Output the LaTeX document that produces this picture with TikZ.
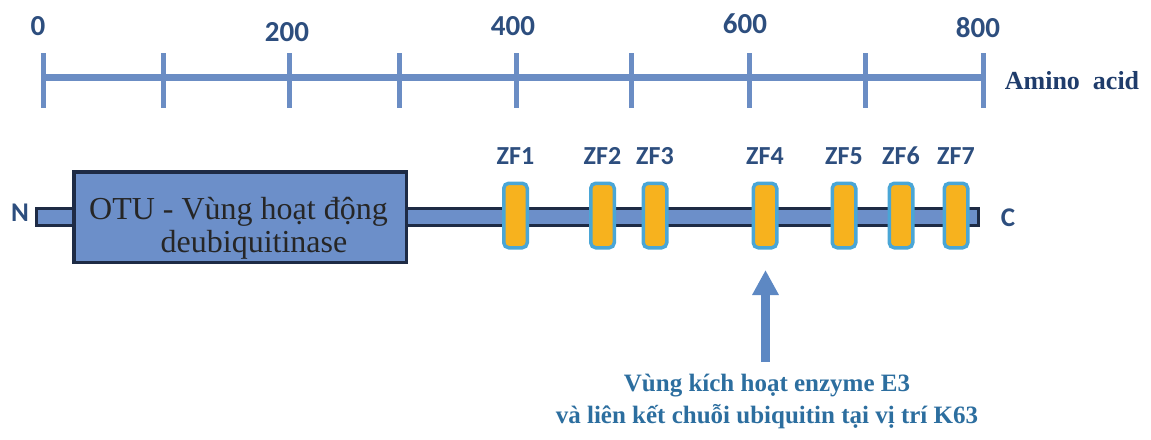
\documentclass[tikz,border=0pt]{standalone}
\usepackage{fontspec}
\setmainfont{Liberation Serif}
\newfontfamily\calib{Carlito}
\usetikzlibrary{arrows.meta}
\definecolor{scalecol}{HTML}{6B8DC4}
\definecolor{labcol}{HTML}{2D4E7E}
\definecolor{aacol}{HTML}{1F3C6B}
\definecolor{navy}{HTML}{1E2B45}
\definecolor{protfill}{HTML}{6C8FC9}
\definecolor{zffill}{HTML}{F7B21E}
\definecolor{zfedge}{HTML}{4AA6D6}
\definecolor{arrcol}{HTML}{5D88C3}
\definecolor{notecol}{HTML}{2C6E9F}
\begin{document}
\begin{tikzpicture}[x=1pt,y=-1pt,
  scalelab/.style={font=\calib\bfseries\fontsize{29}{32}\selectfont, text=labcol, inner sep=0pt},
  tickmark/.style={draw=scalecol, line width=5pt},
  axisline/.style={draw=scalecol, line width=7pt},
  zflab/.style={font=\calib\bfseries\fontsize{26}{30}\selectfont, text=labcol, inner sep=0pt},
  zfbox/.style={draw=zfedge, fill=zffill, line width=3.5pt, rounded corners=5pt,
    minimum width=23.5pt, minimum height=64.5pt, inner sep=0pt},
  protbar/.style={draw=navy, fill=protfill, line width=3pt, minimum width=942pt,
    minimum height=17pt, inner sep=0pt},
  otubox/.style={draw=navy, fill=protfill, line width=3.5pt, minimum width=332.5pt,
    minimum height=90.5pt, inner sep=0pt},
  otutext/.style={font=\fontsize{32}{33}\selectfont, text=black!85, inner sep=0pt, anchor=base},
  endlab/.style={font=\calib\bfseries\fontsize{27}{30}\selectfont, text=labcol, inner sep=0pt},
  arr/.style={draw=arrcol, line width=9pt, -{Triangle[width=25pt,length=25pt]}},
  note/.style={font=\bfseries\fontsize{25}{32}\selectfont, text=notecol, align=center, inner sep=0pt}
]
\useasboundingbox (0,0) rectangle (1151,439);
% scale axis
\coordinate (a0) at (43,77);
\coordinate (a8) at (983,77);
\draw[axisline] (a0) -- (a8);
\foreach \x in {43,163,289,399,516,631,749,865,983}
  \draw[tickmark] (\x,53) -- (\x,108);
\node[scalelab] (l0) at (38,26) {0};
\node[scalelab] (l200) at (287,32) {200};
\node[scalelab] (l400) at (513,26) {400};
\node[scalelab] (l600) at (745,24) {600};
\node[scalelab] (l800) at (978,28) {800};
\node[font=\bfseries\fontsize{26}{30}\selectfont, text=aacol, inner sep=0pt] (aa) at (1072,81) {Amino\hspace{0.5em}acid};
% protein
\node[protbar] (bar) at (507.5,217) {};
\node[endlab] (N) at (20,213) {N};
\node[endlab] (C) at (1008,218) {C};
\node[otubox] (otu) at (240,217) {};
\node[otutext] (otu1) at (238.5,219) {OTU - Vùng hoạt động};
\node[otutext] (otu2) at (254,252) {deubiquitinase};
\foreach \n/\x in {1/515.5,2/602.5,3/655,4/765,5/844,6/901,7/956}{
  \node[zfbox] (zf\n) at (\x,215.5) {};
  \node[zflab] (zfl\n) at (\x,156) {ZF\n};
}
% arrow and note
\coordinate (arrfoot) at (765.5,362);
\coordinate (arrtip) at (765.5,270);
\draw[arr] (arrfoot) -- (arrtip);
\node[note] (note) at (767,401) {Vùng kích hoạt enzyme E3\\và liên kết chuỗi ubiquitin tại vị trí K63};
\end{tikzpicture}
\end{document}
